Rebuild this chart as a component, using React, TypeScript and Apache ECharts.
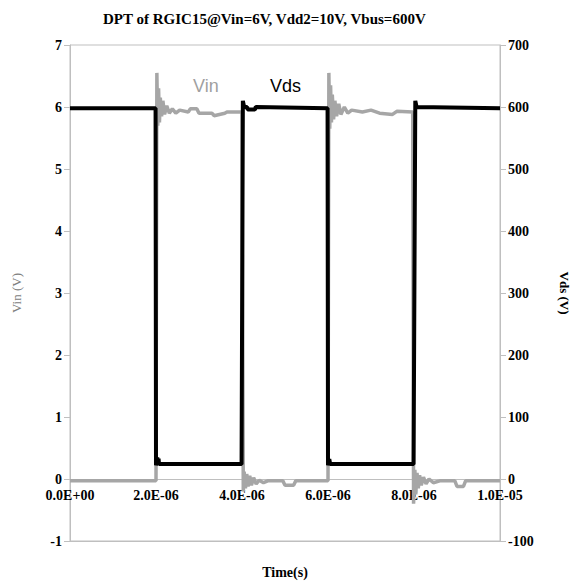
import React, { useEffect, useRef } from "react";
import * as echarts from "echarts";

// Time in microseconds
const vinTime = [0, 2.0, 2.02, 2.04, 2.06, 2.08, 2.1, 2.13, 2.16, 2.2, 2.25, 2.31, 2.38, 2.46, 2.55, 2.75, 2.8, 2.95, 3.0, 3.3, 3.35, 3.6, 3.65, 3.98, 4.0, 4.03, 4.05, 4.08, 4.11, 4.14, 4.18, 4.22, 4.27, 4.33, 4.4, 4.5, 4.6, 4.95, 5.0, 5.2, 5.25, 6.0, 6.02, 6.04, 6.06, 6.08, 6.1, 6.13, 6.16, 6.2, 6.25, 6.3, 6.38, 6.46, 6.55, 6.8, 7.0, 7.2, 7.5, 7.6, 7.97, 7.99, 8.02, 8.04, 8.07, 8.1, 8.13, 8.17, 8.22, 8.28, 8.35, 8.45, 8.6, 8.95, 9.0, 9.15, 9.2, 10.0];
const vinValues = [-0.03, -0.03, 6.55, 5.7, 6.3, 5.75, 6.15, 5.85, 6.1, 5.88, 6.02, 5.9, 5.97, 5.9, 5.95, 5.92, 5.97, 5.97, 5.9, 5.9, 5.86, 5.9, 5.92, 5.92, 5.92, -0.2, 0.12, -0.15, 0.08, -0.12, 0.05, -0.1, 0.02, -0.08, -0.02, -0.06, -0.03, -0.03, -0.1, -0.1, -0.03, -0.03, 6.55, 5.65, 6.35, 5.75, 6.2, 5.8, 6.1, 5.85, 6.05, 5.88, 6.0, 5.9, 5.95, 5.92, 5.95, 5.9, 5.88, 5.93, 5.92, -0.4, 0.15, -0.25, 0.1, -0.15, 0.06, -0.1, 0.03, -0.08, 0.0, -0.06, -0.03, -0.03, -0.12, -0.12, -0.03, -0.03];

const vdsTime = [0, 1.99, 2.0, 2.03, 2.04, 2.06, 2.07, 2.1, 3.99, 4.02, 4.05, 4.12, 4.13, 4.3, 4.32, 5.99, 6.0, 6.03, 6.05, 6.1, 7.99, 8.03, 8.06, 10.0];
const vdsValues = [598, 598, 22, 35, 23, 33, 24, 24, 24, 610, 600, 600, 596, 596, 600, 598, 22, 32, 24, 24, 24, 610, 600, 598];

const leftTicks = { min: -1, max: 7, interval: 1 };
const rightTicks = { min: -100, max: 700, interval: 100 };
const timeTicks = { min: 0, max: 10, interval: 2 };

const titleText = "DPT of RGIC15@Vin=6V, Vdd2=10V, Vbus=600V";

const serif = "'Liberation Serif', 'Times New Roman', serif";

function fmtTime(v: number): string {
  const s = (v * 1e-6).toExponential(1).toUpperCase();
  return s.replace(/E([+-])(\d)$/, "E$10$2");
}

export default function App() {
  const ref = useRef<HTMLDivElement>(null);
  useEffect(() => {
    document.body.style.margin = "0";
    if (!ref.current) return;
    const chart = echarts.init(ref.current, null, { renderer: "svg" });
    const vinData = vinTime.map((t, i) => [t, vinValues[i]]);
    const vdsData = vdsTime.map((t, i) => [t, vdsValues[i]]);
    const axisGray = "#bfbfbf";
    const gridTop = 45;
    const gridBottom = 42;
    const plotH = 583 - gridTop - gridBottom;
    // distance from the bottom edge (at -1) up to the zero line
    const zeroOffset = (plotH * (0 - leftTicks.min)) / (leftTicks.max - leftTicks.min);
    chart.setOption({
      animation: false,
      backgroundColor: "#fff",
      title: {
        text: titleText,
        left: 98,
        top: 6,
        textStyle: { fontFamily: serif, fontWeight: "bold", fontSize: 15, color: "#000" },
      },
      grid: {
        left: 70,
        right: 73,
        top: gridTop,
        bottom: gridBottom,
        show: true,
        borderColor: axisGray,
        borderWidth: 1,
        containLabel: false,
        outerBoundsMode: "none",
      },
      xAxis: {
        type: "value",
        min: timeTicks.min,
        max: timeTicks.max,
        interval: timeTicks.interval,
        axisLine: { onZero: false, lineStyle: { color: axisGray, width: 1 } },
        axisTick: { show: false },
        splitLine: { show: false },
        axisLabel: {
          formatter: fmtTime,
          fontFamily: serif,
          fontWeight: "bold",
          fontSize: 14,
          color: "#000",
          margin: -zeroOffset + 9,
        },
        name: "Time(s)",
        nameLocation: "middle",
        nameGap: 24,
        nameMoveOverlap: false,
        nameTextStyle: { fontFamily: serif, fontWeight: "bold", fontSize: 14, color: "#000" },
      },
      yAxis: [
        {
          type: "value",
          position: "left",
          min: leftTicks.min,
          max: leftTicks.max,
          interval: leftTicks.interval,
          axisLine: { show: true, onZero: false, lineStyle: { color: axisGray } },
          axisTick: { show: true, inside: false, length: 6, lineStyle: { color: axisGray } },
          splitLine: { show: false },
          axisLabel: { fontFamily: serif, fontWeight: "bold", fontSize: 14, color: "#000", margin: 8 },
          name: "Vin (V)",
          nameLocation: "middle",
          nameRotate: 90,
          nameGap: 47,
          nameTextStyle: { fontFamily: serif, fontSize: 13, color: "#808080" },
        },
        {
          type: "value",
          position: "right",
          min: rightTicks.min,
          max: rightTicks.max,
          interval: rightTicks.interval,
          axisLine: { show: true, onZero: false, lineStyle: { color: axisGray } },
          axisTick: { show: true, inside: false, length: 6, lineStyle: { color: axisGray } },
          splitLine: { show: false },
          axisLabel: { fontFamily: serif, fontWeight: "bold", fontSize: 14, color: "#000", margin: 8 },
          name: "Vds (V)",
          nameLocation: "middle",
          nameRotate: -90,
          nameGap: 58,
          nameTextStyle: { fontFamily: serif, fontWeight: "bold", fontSize: 13, color: "#000" },
        },
      ],
      graphic: [
        {
          type: "text",
          left: 193,
          top: 77,
          style: { text: "Vin", fill: "#a0a0a0", fontSize: 18, fontFamily: "'Liberation Sans', Arial, sans-serif" },
        },
        {
          type: "text",
          left: 270,
          top: 77,
          style: { text: "Vds", fill: "#000", fontSize: 18, fontFamily: "'Liberation Sans', Arial, sans-serif" },
        },
      ],
      series: [
        {
          name: "Vin",
          type: "line",
          yAxisIndex: 0,
          data: vinData,
          symbol: "none",
          lineStyle: { color: "#a6a6a6", width: 3.5 },
          itemStyle: { color: "#a6a6a6" },
          markLine: {
            silent: true,
            symbol: "none",
            label: { show: false },
            lineStyle: { color: axisGray, width: 1, type: "solid" },
            data: [{ yAxis: 0 }],
            z: 1,
          },
        },
        {
          name: "Vds",
          type: "line",
          yAxisIndex: 1,
          data: vdsData,
          symbol: "none",
          lineStyle: { color: "#000", width: 4 },
          itemStyle: { color: "#000" },
        },
      ],
    });
    return () => chart.dispose();
  }, []);
  return <div ref={ref} style={{ width: 573, height: 583 }} />;
}
